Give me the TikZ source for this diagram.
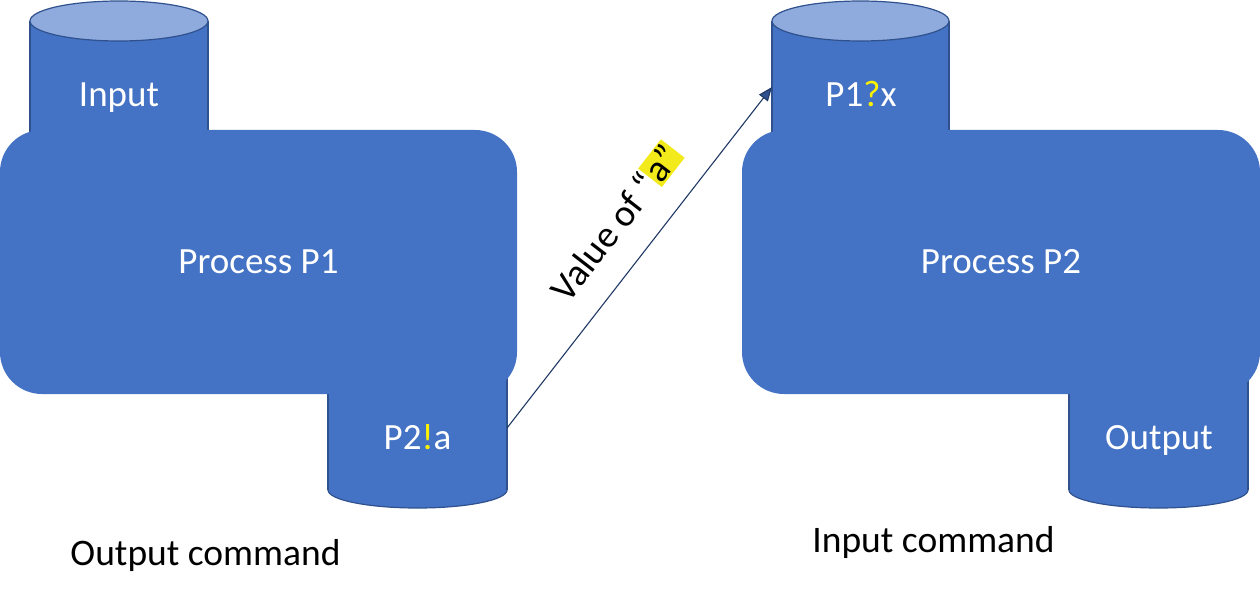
\documentclass[tikz,border=0pt]{standalone}
\usepackage{fontspec}
\setmainfont{Carlito}
\usetikzlibrary{arrows.meta}
\definecolor{cylfill}{HTML}{4472C4}
\definecolor{cylline}{HTML}{2F528F}
\definecolor{toplight}{HTML}{8FAADC}
\definecolor{arrline}{HTML}{203864}
\definecolor{hiyellow}{HTML}{F2EA1A}
\definecolor{txtyellow}{HTML}{FFF200}
\begin{document}
\begin{tikzpicture}[x=1pt,y=-1pt,
  bodyfill/.style={fill=cylfill},
  sideline/.style={draw=cylline, line width=1.2pt},
  topcap/.style={fill=toplight, draw=cylline, line width=1.2pt},
  botcap/.style={fill=cylfill, draw=cylline, line width=1.2pt},
  procbox/.style={fill=cylfill, rounded corners=42pt, inner sep=0pt,
    minimum width=517pt, minimum height=264pt, text=white,
    font=\fontsize{37}{44}\selectfont},
  lbl/.style={text=white, inner sep=0pt, anchor=base, font=\fontsize{37}{44}\selectfont},
  caption/.style={text=black, inner sep=0pt, anchor=base, font=\fontsize{37.5}{45}\selectfont},
  msg/.style={draw=arrline, line width=1.1pt, -{Triangle[length=14pt,width=11pt,fill=cylline]}}
]
\useasboundingbox (0,0) rectangle (1260,599);

% ---------- left group ----------
% top cylinder (Input)
\fill[bodyfill] (30,21) rectangle (208,200);
\draw[sideline] (30,21) -- (30,200) (208,21) -- (208,200);
\filldraw[topcap] (119,21) ellipse [x radius=89, y radius=20];
% lower cylinder (P2!a)
\filldraw[botcap] (417.5,490) ellipse [x radius=89.5, y radius=18];
\fill[bodyfill] (328,340) rectangle (507,490);
\draw[sideline] (328,340) -- (328,490) (507,340) -- (507,490);
% process box
\node[procbox] (p1) at (258.5,262) {Process P1};

% ---------- right group ----------
\fill[bodyfill] (772,21) rectangle (949,200);
\draw[sideline] (772,21) -- (772,200) (949,21) -- (949,200);
\filldraw[topcap] (860.5,21) ellipse [x radius=88.5, y radius=20];
\filldraw[botcap] (1158.5,490) ellipse [x radius=89.5, y radius=18];
\fill[bodyfill] (1069,340) rectangle (1248,490);
\draw[sideline] (1069,340) -- (1069,490) (1248,340) -- (1248,490);
\node[procbox, minimum width=518pt] (p2) at (1001,262) {Process P2};

% ---------- labels ----------
\node[lbl] (input) at (119,107) {Input};
\node[lbl] (send) at (417.5,449) {P2\textcolor{txtyellow}{!}a};
\node[lbl] (recv) at (861,107) {P1\textcolor{txtyellow}{?}x};
\node[lbl] (output) at (1159,449) {Output};
\node[caption] (outcmd) at (205.5,565) {Output command};
\node[caption] (incmd) at (933.5,552) {Input command};

% ---------- message arrow ----------
\coordinate (sendR) at (507,428);
\coordinate (recvL) at (772,87);
\draw[msg] (sendR) -- node[pos=0.53, sloped, above=25pt, inner sep=0pt, text=black,
  font=\fontsize{38}{45}\selectfont] (val)
  {Value of “{\setlength{\fboxsep}{1.5pt}\colorbox{hiyellow}{a”}}} (recvL);
\end{tikzpicture}
\end{document}
